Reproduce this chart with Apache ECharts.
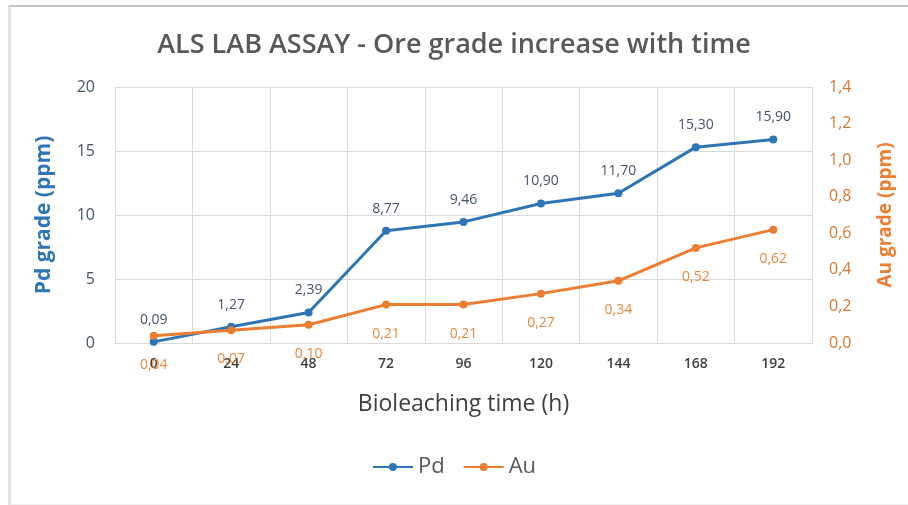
<!DOCTYPE html>
<html>
<head>
<meta charset="utf-8">
<script src="https://cdn.jsdelivr.net/npm/echarts@6/dist/echarts.min.js"></script>
<style>
  html, body { margin: 0; padding: 0; background: #fff; }
  #frame { position: absolute; left: 8px; top: 5px; width: 910px; height: 497px;
           border-top: 2px solid #c4c4c4; border-left: 3px solid #e4e4e4; border-bottom: 2px solid #f0f0f0; }
  #chart { position: absolute; left: 0; top: 0; width: 908px; height: 505px; }
</style>
</head>
<body>
<div id="frame"></div>
<div id="chart"></div>
<script>
  var hours = ['0', '24', '48', '72', '96', '120', '144', '168', '192'];
  var pdGrade = [0.09, 1.27, 2.39, 8.77, 9.46, 10.90, 11.70, 15.30, 15.90];
  var auGrade = [0.04, 0.07, 0.10, 0.21, 0.21, 0.27, 0.34, 0.52, 0.62];

  var comma = function (v, d) { return v.toFixed(d).replace('.', ','); };
  var font = '"Open Sans", sans-serif';

  var chart = echarts.init(document.getElementById('chart'));
  var option = {
    animation: false,
    textStyle: { fontFamily: font },
    title: {
      text: 'ALS LAB ASSAY - Ore grade increase with time',
      left: 'center',
      top: 27,
      textStyle: { fontSize: 27, fontWeight: 600, color: '#595959', fontFamily: font }
    },
    legend: {
      data: ['Pd', 'Au'],
      left: 'center',
      top: 451,
      itemWidth: 40,
      itemHeight: 10,
      itemGap: 18,
      textStyle: { fontSize: 22, color: '#595959' }
    },
    grid: { left: 115, right: 96, top: 87, bottom: 162 },
    xAxis: {
      type: 'category',
      data: hours,
      boundaryGap: true,
      name: 'Bioleaching time (h)',
      nameLocation: 'middle',
      nameGap: 50,
      nameTextStyle: { fontSize: 23, color: '#404040' },
      axisLine: { lineStyle: { color: '#d9d9d9' } },
      axisTick: { show: false },
      axisLabel: { fontSize: 14, color: '#404040', fontWeight: 600, margin: 14 },
      splitLine: { show: true, lineStyle: { color: '#d9d9d9' } }
    },
    yAxis: [
      {
        type: 'value',
        min: 0, max: 20, interval: 5,
        name: 'Pd grade (ppm)',
        nameLocation: 'middle',
        nameGap: 60,
        nameTextStyle: { fontSize: 21, fontWeight: 'bold', color: '#2E75B6' },
        axisLine: { show: false },
        axisTick: { show: false },
        axisLabel: { fontSize: 16, color: '#44546A', margin: 20 },
        splitLine: { lineStyle: { color: '#d9d9d9' } }
      },
      {
        type: 'value',
        min: 0, max: 1.4, interval: 0.2,
        name: 'Au grade (ppm)',
        nameLocation: 'middle',
        nameGap: 64,
        nameTextStyle: { fontSize: 19, fontWeight: 'bold', color: '#ED7D31' },
        axisLine: { show: false },
        axisTick: { show: false },
        axisLabel: { fontSize: 16, color: '#D9782F', margin: 17,
                     formatter: function (v) { return comma(v, 1); } },
        splitLine: { show: false }
      }
    ],
    series: [
      {
        name: 'Pd',
        type: 'line',
        data: pdGrade,
        yAxisIndex: 0,
        symbol: 'circle',
        symbolSize: 8,
        itemStyle: { color: '#2E75B6' },
        lineStyle: { width: 3, color: '#2E75B6' },
        label: { show: true, position: 'top', distance: 11, fontSize: 14, color: '#44546A',
                 formatter: function (p) { return comma(p.value, 2); } }
      },
      {
        name: 'Au',
        type: 'line',
        data: auGrade,
        yAxisIndex: 1,
        symbol: 'circle',
        symbolSize: 8,
        itemStyle: { color: '#ED7D31' },
        lineStyle: { width: 3, color: '#ED7D31' },
        label: { show: true, position: 'bottom', distance: 18, fontSize: 14, color: '#E8893F',
                 formatter: function (p) { return comma(p.value, 2); } }
      }
    ]
  };
  chart.setOption(option);
</script>
</body>
</html>
